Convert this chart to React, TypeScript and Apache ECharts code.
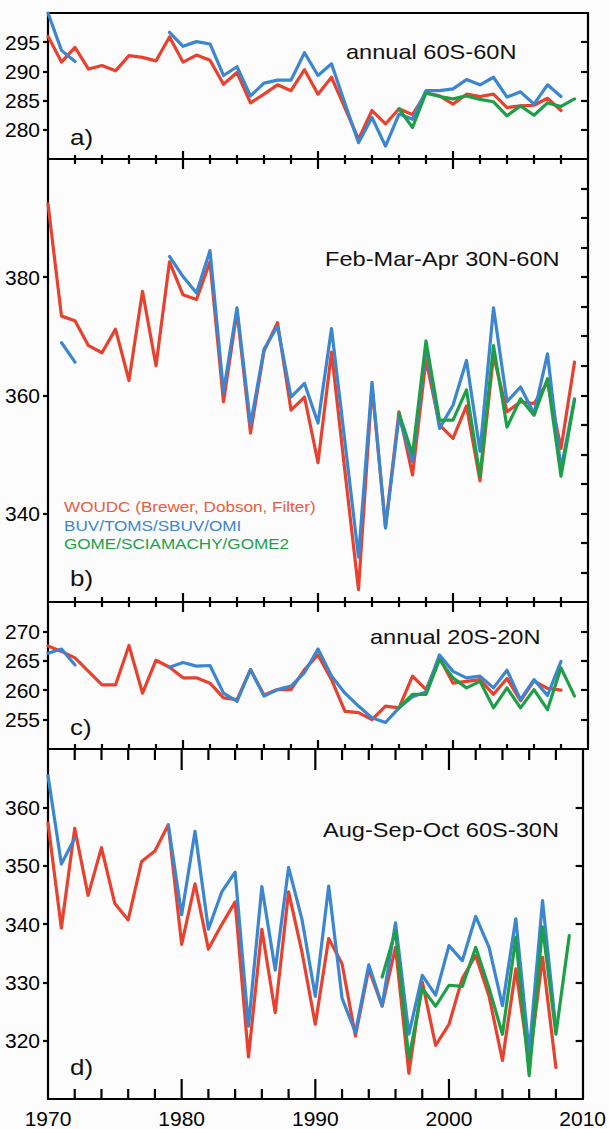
import React, { useEffect, useRef } from 'react';
import * as echarts from 'echarts';

const YEARS = [
  1970, 1971, 1972, 1973, 1974, 1975, 1976, 1977, 1978, 1979,
  1980, 1981, 1982, 1983, 1984, 1985, 1986, 1987, 1988, 1989,
  1990, 1991, 1992, 1993, 1994, 1995, 1996, 1997, 1998, 1999,
  2000, 2001, 2002, 2003, 2004, 2005, 2006, 2007, 2008, 2009,
];
const X_MAJOR_TICKS = [1980, 1990, 2000];
const X_MINOR_TICKS = [1972, 1974, 1976, 1978, 1982, 1984, 1986, 1988, 1992, 1994, 1996, 1998, 2002, 2004, 2006, 2008];

const N = null;

// a) annual 60S-60N
const WOUDC_A = [
  296.0, 291.6, 294.1, 290.4, 291.0, 290.1, 292.7, 292.4, 291.8, 295.9,
  291.6, 292.8, 291.9, 287.8, 289.8, 284.6, 286.1, 287.7, 286.7, 290.3,
  286.1, 289.0, 283.7, 278.4, 283.3, 281.0, 283.6, 282.6, 286.3, 285.8,
  284.4, 286.1, 285.7, 286.1, 283.8, 284.1, 284.2, 285.4, 283.3, N,
];
const BUV_A = [
  300.0, 293.6, 291.7, N, N, N, N, N, N, 296.7,
  294.3, 295.1, 294.7, 289.3, 290.8, 285.8, 288.0, 288.5, 288.5, 293.2,
  289.3, 291.3, 284.5, 277.8, 282.1, 277.2, 282.7, 281.8, 286.7, 286.7,
  287.0, 288.6, 287.7, 289.0, 285.6, 286.5, 284.4, 287.7, 285.7, N,
];
const GOME_A = [
  N, N, N, N, N, N, N, N, N, N,
  N, N, N, N, N, N, N, N, N, N,
  N, N, N, N, N, N, 283.6, 280.4, 286.3, 285.7,
  285.3, 285.8, 285.2, 284.8, 282.4, 284.1, 282.5, 284.6, 284.0, 285.3,
];

// b) Feb-Mar-Apr 30N-60N
const WOUDC_B = [
  392.4, 373.4, 372.6, 368.4, 367.2, 371.2, 362.5, 377.6, 365.0, 382.6,
  377.0, 376.2, 382.6, 358.9, 374.2, 353.6, 367.5, 372.3, 357.5, 359.7,
  348.6, 367.3, 347.0, 327.1, 361.5, 337.8, 357.2, 346.5, 366.0, 355.0,
  352.7, 358.2, 345.5, 366.7, 357.2, 358.9, 358.6, 362.2, 351.0, 365.6,
];
const BUV_B = [
  N, 368.9, 365.6, N, N, N, N, N, N, 383.5,
  380.1, 377.3, 384.5, 360.6, 374.8, 355.0, 367.8, 371.7, 359.7, 362.0,
  355.3, 371.3, 352.0, 332.6, 362.2, 337.5, 356.4, 348.8, 368.4, 354.4,
  358.3, 365.9, 350.5, 374.8, 358.9, 361.4, 356.9, 367.0, 347.5, 359.4,
];
const GOME_B = [
  N, N, N, N, N, N, N, N, N, N,
  N, N, N, N, N, N, N, N, N, N,
  N, N, N, N, N, N, 356.9, 350.0, 369.2, 355.8,
  355.8, 360.9, 346.3, 368.4, 354.6, 359.4, 356.6, 362.8, 346.3, 359.2,
];

// c) annual 20S-20N
const WOUDC_C = [
  267.5, 266.6, 265.5, 263.2, 260.9, 260.9, 267.6, 259.5, 265.1, 263.9,
  262.1, 262.1, 261.2, 258.7, 258.4, 263.5, 259.2, 260.1, 260.1, 263.5,
  266.0, 261.8, 256.4, 256.2, 255.0, 257.3, 257.0, 262.4, 260.1, 265.5,
  261.2, 261.5, 261.8, 259.3, 262.0, 258.2, 261.6, 260.3, 260.0, N,
];
const BUV_C = [
  266.3, 267.0, 264.3, N, N, N, N, N, N, 263.9,
  264.7, 264.1, 264.2, 259.5, 258.1, 263.5, 259.0, 260.1, 260.7, 263.0,
  267.0, 262.4, 259.5, 257.3, 255.3, 254.5, 257.0, 258.9, 259.7, 266.0,
  263.2, 262.1, 262.4, 260.4, 263.4, 258.4, 261.8, 259.1, 264.9, N,
];
const GOME_C = [
  N, N, N, N, N, N, N, N, N, N,
  N, N, N, N, N, N, N, N, N, N,
  N, N, N, N, N, N, 257.0, 259.3, 259.3, 265.2,
  262.1, 260.4, 261.5, 257.0, 260.4, 257.0, 260.1, 256.7, 263.8, 259.0,
];

// d) Aug-Sep-Oct 60S-30N
const WOUDC_D = [
  357.3, 339.3, 356.4, 344.9, 353.1, 343.5, 340.7, 350.7, 352.5, 357.0,
  336.5, 346.9, 335.7, 339.9, 343.8, 317.2, 339.1, 324.8, 345.5, 335.2,
  322.8, 337.5, 333.2, 320.8, 332.3, 325.9, 336.0, 314.4, 330.1, 319.2,
  322.8, 330.7, 334.6, 327.6, 316.6, 332.3, 316.0, 334.3, 315.4, N,
];
const BUV_D = [
  365.4, 350.3, 354.7, N, N, N, N, N, N, 357.0,
  341.6, 355.9, 339.1, 345.5, 348.9, 322.5, 346.4, 332.1, 349.7, 340.8,
  327.6, 346.5, 327.3, 321.4, 333.0, 326.0, 340.2, 321.1, 331.2, 327.8,
  336.3, 333.7, 341.3, 336.0, 326.0, 340.9, 318.0, 344.0, 322.0, N,
];
const GOME_D = [
  N, N, N, N, N, N, N, N, N, N,
  N, N, N, N, N, N, N, N, N, N,
  N, N, N, N, N, 330.9, 338.8, 316.9, 329.0, 325.9,
  329.5, 329.3, 336.0, 329.0, 321.1, 337.7, 314.0, 339.5, 321.1, 338.0,
];

const SERIES_NAMES = ['WOUDC (Brewer, Dobson, Filter)', 'BUV/TOMS/SBUV/OMI', 'GOME/SCIAMACHY/GOME2'];
const PANEL_TITLES = ['annual 60S-60N', 'Feb-Mar-Apr 30N-60N', 'annual 20S-20N', 'Aug-Sep-Oct 60S-30N'];
const PANEL_LETTERS = ['a)', 'b)', 'c)', 'd)'];

const Y_LABELS_A = [280, 285, 290, 295];
const Y_LABELS_B = [340, 360, 380];
const Y_LABELS_C = [255, 260, 265, 270];
const Y_LABELS_D = [320, 330, 340, 350, 360];
const Y_RTICKS_B = [330, 335, 340, 345, 350, 355, 360, 365, 370, 375, 380, 385, 390, 395];

const RED = '#e8412e';
const BLUE = '#3b86d1';
const GREEN = '#1d9f48';
const INK = '#000000';
const FONT = '"Liberation Sans", Arial, Helvetica, sans-serif';

const PANELS = [
  { top: 13, height: 146, min: 275, max: 300, interval: 5, labels: Y_LABELS_A, rticks: Y_LABELS_A, data: [WOUDC_A, BUV_A, GOME_A], topT: null, botT: [8, 4], titleX: 346, titleY: 52, letterY: 137 },
  { top: 159, height: 443, min: 325, max: 400, interval: 5, labels: Y_LABELS_B, rticks: Y_RTICKS_B, data: [WOUDC_B, BUV_B, GOME_B], topT: [10, 5], botT: [9, 5], titleX: 325, titleY: 259, letterY: 578 },
  { top: 602, height: 147, min: 250, max: 275, interval: 5, labels: Y_LABELS_C, rticks: Y_LABELS_C, data: [WOUDC_C, BUV_C, GOME_C], topT: [10, 5], botT: [9, 5], titleX: 370, titleY: 637, letterY: 727 },
  { top: 749, height: 353, min: 310, max: 370, interval: 10, labels: Y_LABELS_D, rticks: Y_LABELS_D, data: [WOUDC_D, BUV_D, GOME_D], topT: [21, 11], botT: [20, 10], titleX: 323, titleY: 830, letterY: 1067 },
];

const COLORS = [RED, BLUE, GREEN];
const GRID_LEFT = 48;
const GRID_WIDTH = 540;
const STRETCH = 1.18;
const TICK_W = 2.2;

export default function App() {
  const ref = useRef<HTMLDivElement>(null);

  useEffect(() => {
    document.body.style.margin = '0';
    if (!ref.current) return;
    const chart = echarts.init(ref.current, undefined, { renderer: 'svg' });

    const axisLine = () => ({ show: true, onZero: false, lineStyle: { color: INK, width: 2.2 } });
    const tickLS = () => ({ color: INK, width: TICK_W });

    const grid: any[] = [];
    const xAxis: any[] = [];
    const yAxis: any[] = [];
    const series: any[] = [];
    const graphic: any[] = [];

    PANELS.forEach((p, i) => {
      grid.push({ left: GRID_LEFT, width: GRID_WIDTH, top: p.top, height: p.height });
      xAxis.push({
        gridIndex: i, type: 'value', min: 1970, max: 2010, interval: 10, position: 'bottom',
        axisLine: axisLine(),
        axisTick: { show: false },
        axisLabel: {
          show: i === 3, margin: 9, fontSize: 21, color: INK, fontFamily: FONT,
          formatter: (v: number) => String(v),
        },
        splitLine: { show: false },
      });
      xAxis.push({
        gridIndex: i, type: 'value', min: 1970, max: 2010, interval: 10, position: 'top',
        axisLine: axisLine(), axisTick: { show: false }, axisLabel: { show: false }, splitLine: { show: false },
      });
      yAxis.push({
        gridIndex: i, type: 'value', min: p.min, max: p.max, interval: p.interval, position: 'left',
        axisLine: axisLine(),
        axisTick: { show: true, inside: false, length: 5, customValues: p.labels, lineStyle: tickLS() },
        axisLabel: { show: true, margin: 8, fontSize: 21, color: INK, fontFamily: FONT, customValues: p.labels },
        splitLine: { show: false },
      });
      yAxis.push({
        gridIndex: i, type: 'value', min: p.min, max: p.max, interval: p.interval, position: 'right',
        axisLine: axisLine(),
        axisTick: { show: true, inside: true, length: 7, customValues: p.rticks, lineStyle: tickLS() },
        axisLabel: { show: false }, splitLine: { show: false },
      });

      p.data.forEach((arr, k) => {
        series.push({
          type: 'line',
          name: SERIES_NAMES[k],
          xAxisIndex: i * 2,
          yAxisIndex: i * 2,
          data: YEARS.map((y, j) => [y, arr[j] === null ? '-' : arr[j]]),
          connectNulls: false,
          showSymbol: false,
          symbol: 'none',
          lineStyle: { color: COLORS[k], width: 3.2, join: 'round', cap: 'round' },
          z: 2 + k,
        });
      });

      // x tick marks: thin rect symbols placed on this panel's own axes
      const tickSeries = (ticks: number[], atTop: boolean, len: number) => ({
        type: 'scatter',
        name: 'ticks',
        xAxisIndex: i * 2,
        yAxisIndex: i * 2,
        data: ticks.map((t) => [t, atTop ? p.max : p.min]),
        symbol: 'rect',
        symbolSize: [TICK_W, len],
        symbolOffset: [0, atTop ? len / 2 : -len / 2],
        itemStyle: { color: INK, opacity: 1 },
        silent: true,
        clip: false,
        z: 6,
      });
      series.push(tickSeries(X_MAJOR_TICKS, false, p.botT[0]));
      series.push(tickSeries(X_MINOR_TICKS, false, p.botT[1]));
      if (p.topT) {
        series.push(tickSeries(X_MAJOR_TICKS, true, p.topT[0]));
        series.push(tickSeries(X_MINOR_TICKS, true, p.topT[1]));
      }

      graphic.push({
        type: 'text', x: p.titleX, y: p.titleY, scaleX: STRETCH, z: 10,
        style: { text: PANEL_TITLES[i], font: `20px ${FONT}`, fill: '#111', textAlign: 'left', textVerticalAlign: 'middle' },
      });
      graphic.push({
        type: 'text', x: 70, y: p.letterY, scaleX: STRETCH, z: 10,
        style: { text: PANEL_LETTERS[i], font: `22px ${FONT}`, fill: '#111', textAlign: 'left', textVerticalAlign: 'middle' },
      });
    });

    const legendColors = ['#ee5a3e', '#3b86d1', '#1da04a'];
    const legendY = [507, 525.5, 543.5];
    SERIES_NAMES.forEach((name, k) => {
      graphic.push({
        type: 'text', x: 64, y: legendY[k], scaleX: STRETCH, z: 10,
        style: { text: name, font: `14.5px ${FONT}`, fill: legendColors[k], textAlign: 'left', textVerticalAlign: 'middle' },
      });
    });

    chart.setOption({
      animation: false,
      backgroundColor: '#fcfcfc',
      grid, xAxis, yAxis, series, graphic,
    });

    return () => chart.dispose();
  }, []);

  return <div ref={ref} style={{ width: 609, height: 1129 }} />;
}
